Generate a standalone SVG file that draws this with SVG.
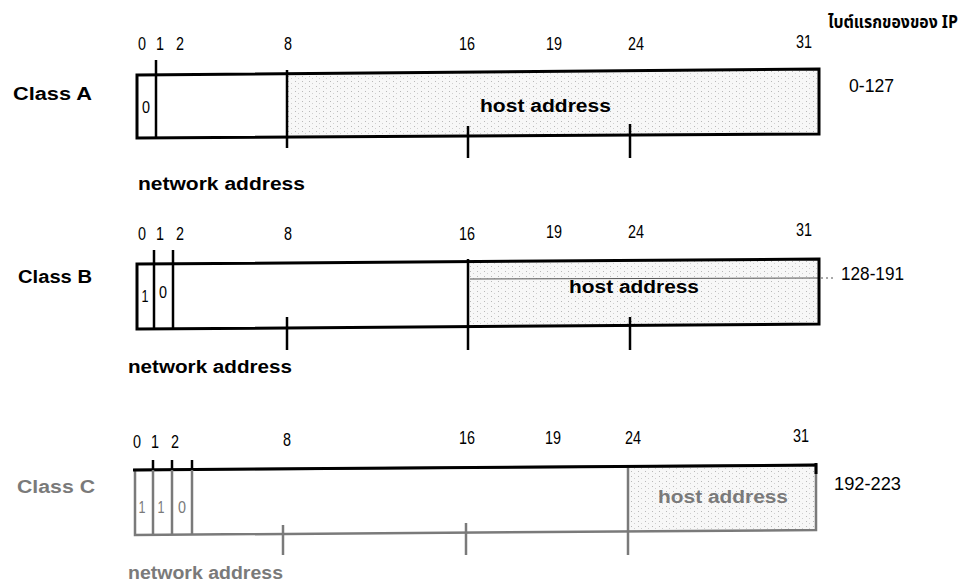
<svg xmlns="http://www.w3.org/2000/svg" width="972" height="584" viewBox="0 0 972 584">
<defs>
<pattern id="stip" width="7" height="5" patternUnits="userSpaceOnUse">
<rect width="7" height="5" fill="#f7f7f7"/>
<rect x="1" y="1" width="1" height="1" fill="#b8b8b8"/>
<rect x="4" y="3" width="1" height="1" fill="#cfcfcf"/>
</pattern>
</defs>
<style>
.box{fill:none;stroke:#000;stroke-width:3}
.div{stroke:#000;stroke-width:2.5}
.g .box{stroke:#7a7a7a;stroke-width:2.5}
.g .div{stroke:#7a7a7a}
.num{font-family:"Liberation Sans",Arial,sans-serif;font-size:18px;fill:#000;text-anchor:middle}
.lbl{font-family:"Liberation Sans",Arial,sans-serif;font-weight:bold;font-size:18px;fill:#000}
.rng{font-family:"Liberation Sans",Arial,sans-serif;font-size:18px;fill:#000}
.bit{font-family:"Liberation Sans",Arial,sans-serif;font-size:17px;fill:#000;text-anchor:middle}
.gray{fill:#7a7a7a}
</style>

<g id="header">
<text x="828" y="28" textLength="130" lengthAdjust="spacingAndGlyphs" style="font-family:'Noto Sans Thai','Tahoma','DejaVu Sans','Liberation Sans',sans-serif;font-size:17px;font-weight:bold;fill:#000">ไบต์แรกของของ IP</text>
</g>

<g id="classA">
<text class="lbl" x="13" y="100" textLength="79" lengthAdjust="spacingAndGlyphs">Class A</text>
<g class="num">
<text x="142" y="50" textLength="8" lengthAdjust="spacingAndGlyphs">0</text><text x="160" y="50" textLength="8" lengthAdjust="spacingAndGlyphs">1</text><text x="180" y="50" textLength="8" lengthAdjust="spacingAndGlyphs">2</text>
<text x="288" y="50" textLength="8" lengthAdjust="spacingAndGlyphs">8</text><text x="467" y="50" textLength="16" lengthAdjust="spacingAndGlyphs">16</text><text x="554" y="50" textLength="16" lengthAdjust="spacingAndGlyphs">19</text>
<text x="636" y="50" textLength="16" lengthAdjust="spacingAndGlyphs">24</text><text x="804" y="48" textLength="16" lengthAdjust="spacingAndGlyphs">31</text>
</g>
<polygon points="287,74 819,69 819,134 287,136" fill="url(#stip)"/>
<polygon class="box" points="137,75 819,69 819,134 137,138"/>
<line class="div" x1="156" y1="60" x2="156" y2="137"/>
<line class="div" x1="287" y1="70" x2="287" y2="148"/>
<line class="div" x1="468" y1="126" x2="468" y2="158"/>
<line class="div" x1="630" y1="124" x2="630" y2="158"/>
<text class="bit" x="146" y="113" textLength="8" lengthAdjust="spacingAndGlyphs">0</text>
<text class="lbl" x="480" y="112" textLength="131" lengthAdjust="spacingAndGlyphs">host address</text>
<text class="rng" x="849" y="92" textLength="45" lengthAdjust="spacingAndGlyphs">0-127</text>
<text class="lbl" x="138" y="190" textLength="167" lengthAdjust="spacingAndGlyphs">network address</text>
</g>

<g id="classB">
<text class="lbl" x="18" y="283" textLength="74" lengthAdjust="spacingAndGlyphs">Class B</text>
<g class="num">
<text x="142" y="240" textLength="8" lengthAdjust="spacingAndGlyphs">0</text><text x="160" y="240" textLength="8" lengthAdjust="spacingAndGlyphs">1</text><text x="180" y="240" textLength="8" lengthAdjust="spacingAndGlyphs">2</text>
<text x="288" y="240" textLength="8" lengthAdjust="spacingAndGlyphs">8</text><text x="467" y="240" textLength="16" lengthAdjust="spacingAndGlyphs">16</text><text x="554" y="238" textLength="16" lengthAdjust="spacingAndGlyphs">19</text>
<text x="636" y="238" textLength="16" lengthAdjust="spacingAndGlyphs">24</text><text x="804" y="236" textLength="16" lengthAdjust="spacingAndGlyphs">31</text>
</g>
<polygon points="468,261 819,259 819,324 468,327" fill="url(#stip)"/>
<line x1="470" y1="279" x2="819" y2="278" stroke="#555" stroke-width="1"/>
<line x1="821" y1="278" x2="835" y2="278" stroke="#555" stroke-width="1" stroke-dasharray="2,3"/>
<polygon class="box" points="137,264 819,259 819,324 137,329"/>
<line class="div" x1="154" y1="250" x2="154" y2="328"/>
<line class="div" x1="173" y1="250" x2="173" y2="328"/>
<line class="div" x1="287" y1="317" x2="287" y2="350"/>
<line class="div" x1="468" y1="259" x2="468" y2="350"/>
<line class="div" x1="630" y1="317" x2="630" y2="350"/>
<text class="bit" x="145" y="302" textLength="7" lengthAdjust="spacingAndGlyphs">1</text>
<text class="bit" x="163" y="298" textLength="8" lengthAdjust="spacingAndGlyphs">0</text>
<text class="lbl" x="569" y="293" textLength="130" lengthAdjust="spacingAndGlyphs">host address</text>
<text class="rng" x="841" y="280" textLength="63" lengthAdjust="spacingAndGlyphs">128-191</text>
<text class="lbl" x="128" y="373" textLength="164" lengthAdjust="spacingAndGlyphs">network address</text>
</g>

<g id="classC" class="g">
<text class="lbl gray" x="17" y="493" textLength="78" lengthAdjust="spacingAndGlyphs">Class C</text>
<g class="num">
<text x="137" y="448" textLength="8" lengthAdjust="spacingAndGlyphs">0</text><text x="155" y="448" textLength="8" lengthAdjust="spacingAndGlyphs">1</text><text x="175" y="448" textLength="8" lengthAdjust="spacingAndGlyphs">2</text>
<text x="287" y="446" textLength="8" lengthAdjust="spacingAndGlyphs">8</text><text x="467" y="444" textLength="16" lengthAdjust="spacingAndGlyphs">16</text><text x="553" y="444" textLength="16" lengthAdjust="spacingAndGlyphs">19</text>
<text x="633" y="444" textLength="16" lengthAdjust="spacingAndGlyphs">24</text><text x="801" y="442" textLength="16" lengthAdjust="spacingAndGlyphs">31</text>
</g>
<polygon points="628,467 816,465 816,529 628,531" fill="url(#stip)"/>
<polygon class="box" points="135,470 816,465 816,530 135,535"/>
<line x1="133" y1="470" x2="816" y2="465" stroke="#000" stroke-width="3"/>
<line x1="816" y1="463" x2="816" y2="474" stroke="#000" stroke-width="3"/>
<line class="div" x1="153" y1="470" x2="153" y2="535"/>
<line class="div" x1="172" y1="470" x2="172" y2="535"/>
<line class="div" x1="192" y1="470" x2="192" y2="535"/>
<line x1="153" y1="460" x2="153" y2="470" stroke="#000" stroke-width="2.5"/>
<line x1="172" y1="460" x2="172" y2="470" stroke="#000" stroke-width="2.5"/>
<line x1="192" y1="460" x2="192" y2="470" stroke="#000" stroke-width="2.5"/>
<line class="div" x1="283" y1="525" x2="283" y2="555"/>
<line class="div" x1="466" y1="523" x2="466" y2="555"/>
<line class="div" x1="628" y1="468" x2="628" y2="555"/>
<text class="bit gray" x="142" y="513" textLength="7" lengthAdjust="spacingAndGlyphs">1</text>
<text class="bit gray" x="161" y="513" textLength="7" lengthAdjust="spacingAndGlyphs">1</text>
<text class="bit gray" x="182" y="513" textLength="8" lengthAdjust="spacingAndGlyphs">0</text>
<text class="lbl gray" x="658" y="503" textLength="130" lengthAdjust="spacingAndGlyphs">host address</text>
<text class="rng" x="834" y="490" textLength="67" lengthAdjust="spacingAndGlyphs">192-223</text>
<text class="lbl gray" x="128" y="579" textLength="155" lengthAdjust="spacingAndGlyphs">network address</text>
</g>
</svg>
